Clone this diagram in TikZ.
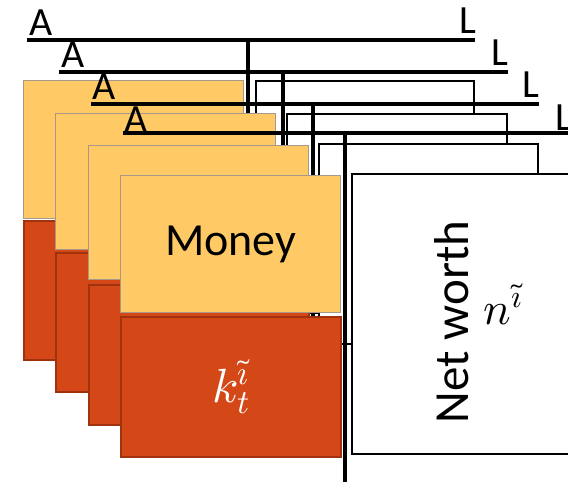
\documentclass[tikz,border=0pt]{standalone}
\usepackage{fontspec}
\usepackage{unicode-math}
\setmainfont{Carlito}
\setmathfont{Latin Modern Math}
\definecolor{moneyc}{RGB}{255,202,101}
\definecolor{moneyb}{RGB}{168,152,138}
\definecolor{kc}{RGB}{211,72,22}
\definecolor{kb}{RGB}{160,50,14}
\begin{document}
\begin{tikzpicture}[x=1pt,y=-1pt,
  tline/.style={line width=4.2pt},
  vline/.style={line width=4pt},
  nwbox/.style={draw=black, line width=2.4pt, fill=white},
  moneybox/.style={draw=moneyb, line width=1.3pt, fill=moneyc, anchor=north west, inner sep=0pt, minimum width=220pt},
  kbox/.style={draw=kb, line width=2pt, fill=kc, anchor=north west, inner sep=0pt, minimum width=220pt},
  lbl/.style={font=\fontsize{40}{40}\selectfont, inner sep=0pt, anchor=base west}]
\useasboundingbox (0,0) rectangle (568,482);
\clip (0,0) rectangle (568,482);
% layer 1
\draw[tline] (27,40) -- (475,40);
\node[lbl] (a1) at (29,35) {A};
\node[lbl] (l1) at (459,33) {L};
\draw[vline] (248,40) -- (248,385);
\draw[nwbox] (256,81) rectangle (474,280);
\node[moneybox, minimum height=138pt] (m1) at (23,80) {};
\node[kbox, minimum height=139pt] (k1) at (23,220) {};
% layer 2
\draw[tline] (59,72) -- (508,72);
\node[lbl] (a2) at (61,67) {A};
\node[lbl] (l2) at (491,65) {L};
\draw[vline] (283,72) -- (283,418);
\draw[nwbox] (287,114) rectangle (507,313);
\node[moneybox, minimum height=136pt] (m2) at (55,113) {};
\node[kbox, minimum height=139pt] (k2) at (55,252) {};
% layer 3
\draw[tline] (91,104) -- (539,104);
\node[lbl] (a3) at (92,99) {A};
\node[lbl] (l3) at (522,97) {L};
\draw[vline] (313,104) -- (313,450);
\draw[nwbox] (319,144) rectangle (538,344);
\node[moneybox, minimum height=134pt] (m3) at (88,145) {};
\node[kbox, minimum height=140pt] (k3) at (88,284) {};
% layer 4
\draw[tline] (123,133) -- (580,133);
\node[lbl] (a4) at (124,132) {A};
\node[lbl] (l4) at (555,130) {L};
\draw[vline] (345,133) -- (345,490);
\draw[nwbox] (352,174) rectangle (590,454);
\node[moneybox, minimum height=137pt, font=\fontsize{46}{46}\selectfont] (m4) at (120,175) {Money};
\node[kbox, minimum height=140pt, text=white, font=\fontsize{48}{48}\selectfont] (k4) at (120,316) {$k_t^{\tilde{\imath}}$};
\node[rotate=90, font=\fontsize{49}{49}\selectfont, inner sep=0pt] (nw) at (452,322) {Net worth};
\node[font=\fontsize{46}{46}\selectfont, inner sep=0pt] (n4) at (503,304) {$n^{\tilde{\imath}}$};
\end{tikzpicture}
\end{document}
